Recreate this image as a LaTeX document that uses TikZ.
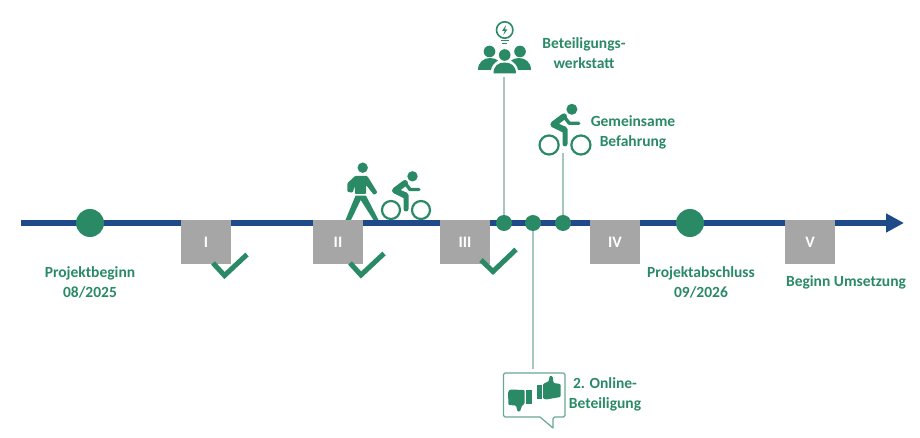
\documentclass[tikz,border=0pt]{standalone}
\usepackage{fontspec}
\setmainfont{Carlito}
\usetikzlibrary{arrows.meta}
\definecolor{grn}{HTML}{2A8A66}
\definecolor{blu}{HTML}{1F4A8A}
\definecolor{gry}{HTML}{A6A6A6}
\definecolor{stem}{HTML}{A9C6BC}
\tikzset{
 x=1pt,y=-1pt,
 label/.style={text=grn,font=\fontsize{15.5}{20}\selectfont\bfseries,align=center,inner sep=0pt},
 phase/.style={fill=gry,minimum width=50pt,minimum height=44pt,inner sep=0pt,text=white,font=\fontsize{16}{16}\selectfont\bfseries},
 bigdot/.style={circle,fill=grn,minimum size=28pt,inner sep=0pt},
 smalldot/.style={circle,fill=grn,minimum size=16pt,inner sep=0pt},
 stemline/.style={draw=stem,line width=1.2pt},
 tick/.style={draw=grn,line width=5pt,line cap=butt,line join=miter},
 cyclist/.pic={
   \fill[grn] (6.5,-33.7) circle (5.2);
   \draw[grn,line width=2.2pt] (-15,0) circle (9) (15,0) circle (9);
   \draw[grn,line width=6pt,line join=round,line cap=round] (-1,-14.5) -- (-11,-19.5) -- (-1,-27);
   \draw[grn,line width=5pt,line join=round,line cap=round] (-11,-19) -- (0,-15) -- (0,-1);
   \draw[grn,line width=3.4pt,line join=round,line cap=round] (-1,-27) -- (4,-20.5) -- (13,-20.5);
 },
}
\begin{document}
\begin{tikzpicture}
\useasboundingbox (0,0) rectangle (920,438);
\fill[white] (0,0) rectangle (920,438);
% axis
\coordinate (axisstart) at (21,223);
\coordinate (axisend) at (904,223);
\draw[blu,line width=6pt,-{Triangle[length=18pt,width=18pt]}] (axisstart) -- (axisend);
% stems
\node[smalldot] (d1) at (504,223) {};
\node[smalldot] (d2) at (533,223) {};
\node[smalldot] (d3) at (563,223) {};
\coordinate (t1) at (504,77);
\coordinate (t2) at (533,369);
\coordinate (t3) at (563,153);
\draw[stemline] (t1) -- (d1);
\draw[stemline] (d2) -- (t2);
\draw[stemline] (t3) -- (d3);
% big dots
\node[bigdot] (start) at (90,223) {};
\node[bigdot] (finish) at (690,223) {};
% phases
\node[phase] (pI) at (206,242) {I};
\node[phase] (pII) at (338,242) {II};
\node[phase] (pIII) at (465,242) {III};
\node[phase] (pIV) at (615,242) {IV};
\node[phase] (pV) at (810,242) {V};
% ticks
\draw[tick] (213,263) -- (224.5,275.5) -- (247,254.5);
\draw[tick] (350,263) -- (361,275) -- (384,253.5);
\draw[tick] (481,260) -- (493,271.5) -- (516,249.5);
% walker
\fill[grn] (362.7,167.7) circle (5.2);
\fill[grn,rounded corners=1pt] (355,176) -- (367.3,176) -- (377.5,192.5) -- (374,195) -- (366,185) -- (366,194) -- (355,194) -- (354.7,186) -- (352.7,192.7) -- (347.3,191.7) -- (347.3,183.3) -- cycle;
\fill[grn] (355.5,195.7) -- (366,195.7) -- (378.5,220) -- (373.5,220) -- (360.7,200) -- (351,220) -- (345.5,220) -- cycle;
% cyclists
\pic at (406,210) {cyclist};
\pic[scale=1.06] at (565,145) {cyclist};
% workshop icon
\draw[grn,line width=1.6pt] (504.7,30) circle (8.2);
\fill[grn] (506,25) -- (502,31) -- (504.7,31) -- (503.4,35) -- (507.4,29.5) -- (505,29.5) -- cycle;
\draw[grn,line width=1.5pt] (500.5,40.5) -- (508.5,40.5) (502,43.5) -- (507,43.5);
\fill[grn] (489.5,51.5) circle (5.8) (520,51.5) circle (5.8) (504.7,55) circle (5.8);
\fill[grn] (478,70) .. controls (478,62) and (484,58) .. (490,58) .. controls (493,58) and (496,59) .. (498,60.5) .. controls (494,63) and (491.5,66) .. (491,70) -- cycle;
\fill[grn] (531,70) .. controls (531,62) and (525,58) .. (519,58) .. controls (516,58) and (513,59) .. (511,60.5) .. controls (515,63) and (517.5,66) .. (518,70) -- cycle;
\fill[grn] (493.5,73.5) .. controls (493.5,66) and (498,62.5) .. (504.7,62.5) .. controls (511,62.5) and (516,66) .. (516,73.5) -- cycle;
% bubble
\draw[stem!50!grn,line width=1.2pt,line join=round,rounded corners=1.5pt] (503.5,373) -- (565,373) -- (565,417) -- (553,417) [sharp corners] -- (553,428) -- (540,417) [rounded corners=1.5pt] -- (503.5,417) -- cycle;
% thumb up
\fill[grn] (537,384.5) rectangle (541.5,398.5);
\fill[grn,rounded corners=1pt] (543,384) -- (549,381) -- (549.5,376) -- (552.5,376) -- (553.5,383) -- (560.5,384) -- (560.5,397) -- (546,399.5) -- (543,398.5) -- cycle;
% thumb down
\fill[grn] (526,390) rectangle (531.5,404);
\fill[grn,rounded corners=1pt] (524.5,390) -- (510,389.5) -- (508,392) -- (508.5,405) -- (516,405.5) -- (517.5,411.5) -- (520,411.5) -- (522,405.5) -- (524.5,404) -- cycle;
% labels
\node[label] (lwork) at (584,53) {Beteiligungs-\\werkstatt};
\node[label] (lride) at (633,132.5) {Gemeinsame\\Befahrung};
\node[label] (lonline) at (605,394.5) {2. Online-\\Beteiligung};
\node[label] (lstart) at (90,282) {Projektbeginn\\08/2025};
\node[label] (lend) at (701,282) {Projektabschluss\\09/2026};
\node[label] (lbegin) at (846,282) {Beginn Umsetzung};
\end{tikzpicture}
\end{document}
